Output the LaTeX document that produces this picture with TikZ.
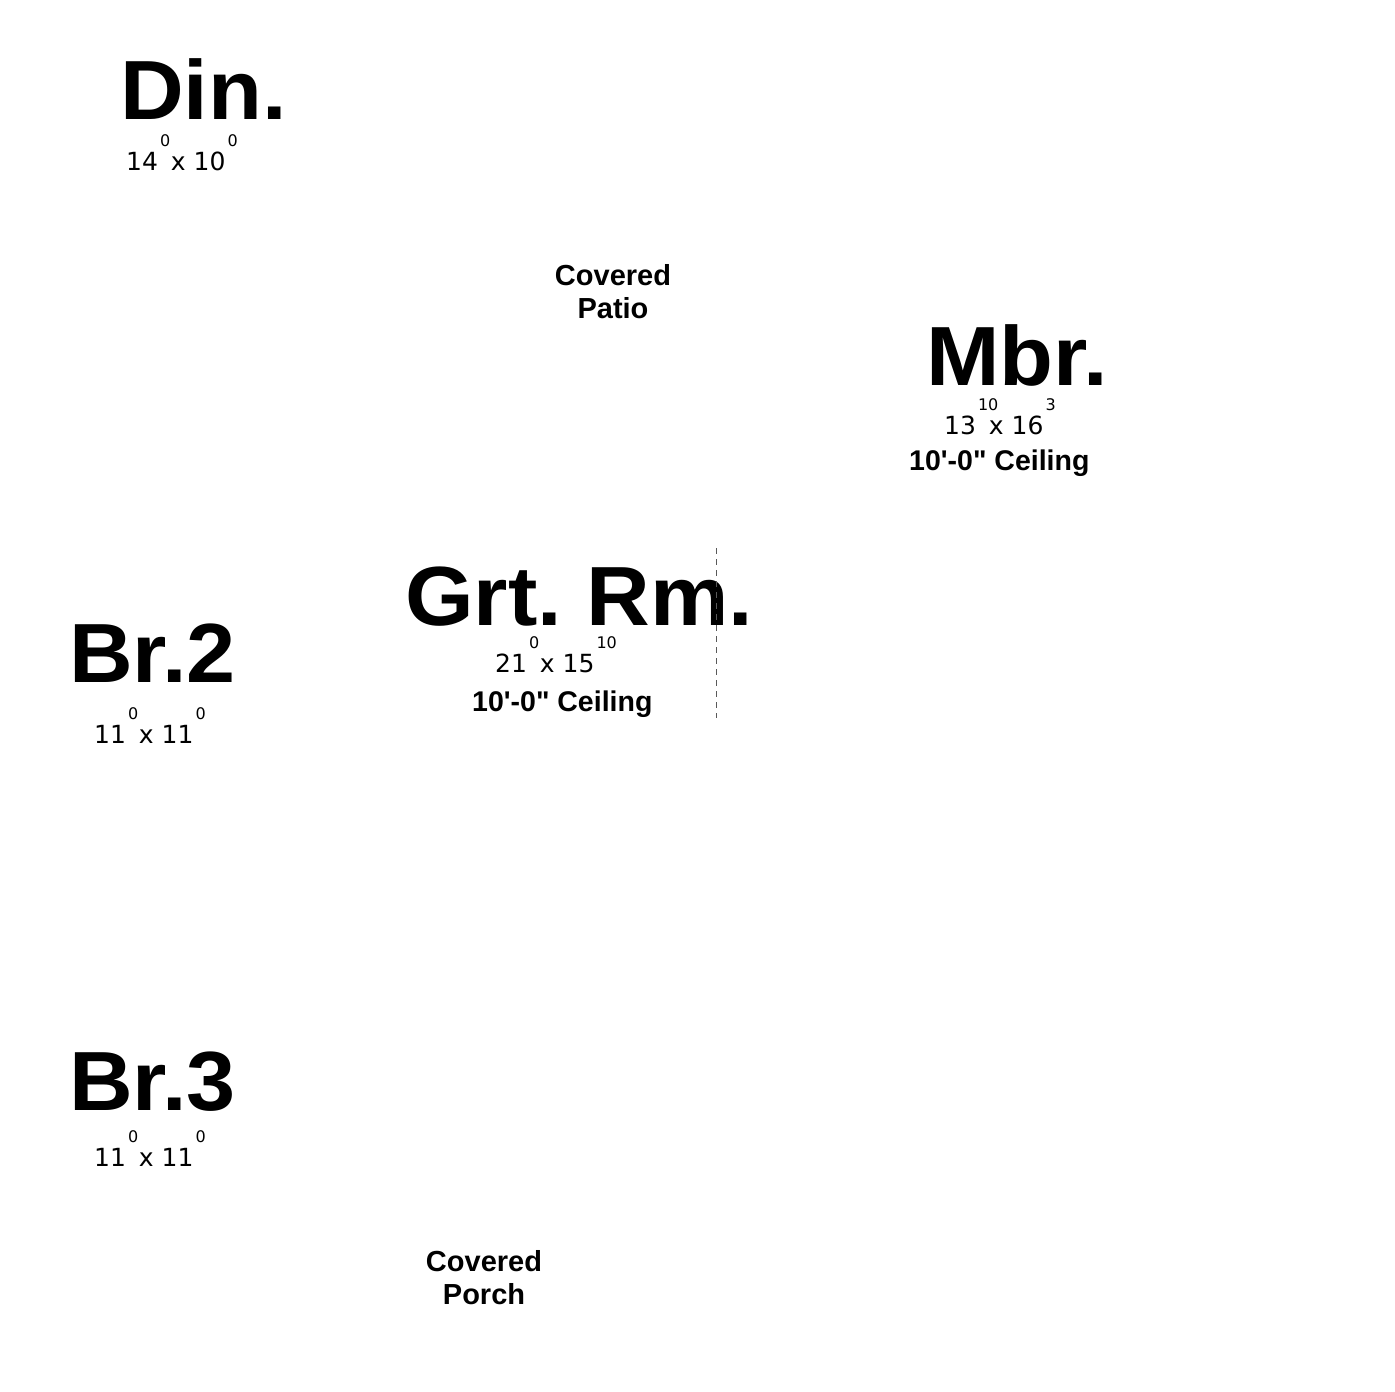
\documentclass[tikz,border=0pt]{standalone}
\usepackage{fontspec}
\setmainfont{Liberation Sans}[Ligatures=TeXOff]
\newfontfamily\dimfont{DejaVu Sans}
\newfontfamily\roomfont{Liberation Sans Bold}[FakeStretch=1.05]
\newcommand{\up}[1]{\rlap{\kern2pt\raisebox{0.95em}{\fontsize{16}{16}\selectfont #1}}}
\newcommand{\dm}[4]{#1\up{#2}\kern5pt{} x #3\up{#4}}

\begin{document}
\frenchspacing
\begin{tikzpicture}[x=1pt, y=-1pt,
    room/.style={font=\fontsize{84}{84}\selectfont\roomfont, inner sep=0pt, text depth=0pt, anchor=base west},
    dims/.style={font=\fontsize{25}{25}\selectfont\dimfont, inner sep=0pt, anchor=base west},
    ceil/.style={font=\fontsize{28.5}{28.5}\selectfont\bfseries, inner sep=0pt, anchor=base west},
    note/.style={font=\fontsize{29}{33}\selectfont\bfseries, inner sep=0pt, align=center, anchor=base}]
    \useasboundingbox (0,0) rectangle (1395,1392);
    % room names
    \foreach \n/\t/\x/\y in {din/Din./120/119, mbr/Mbr./926/385, grt/Grt. Rm./405/625, br2/Br.2/69/682, br3/Br.3/69/1110}
        \node[room] (\n) at (\x,\y) {\t};
    % sizes
    \node[dims] (din-d) at (126,170) {\dm{14}{0}{10}{0}};
    \node[dims] (mbr-d) at (944,434) {\dm{13}{10}{16}{3}};
    \node[dims] (grt-d) at (495,672) {\dm{21}{0}{15}{10}};
    \node[dims] (br2-d) at (94,743) {\dm{11}{0}{11}{0}};
    \node[dims] (br3-d) at (94,1166) {\dm{11}{0}{11}{0}};
    \node[ceil] (mbr-c) at (909,470) {10'-0" Ceiling};
    \node[ceil] (grt-c) at (472,711) {10'-0" Ceiling};
    % outdoor areas
    \node[note] (patio) at (613,318) {Covered\\Patio};
    \node[note] (porch) at (484,1304) {Covered\\Porch};
    % opening
    \coordinate (o1) at (716,548);
    \coordinate (o2) at (716,718);
    \draw[gray!70!black, line width=0.8pt, dash pattern=on 6pt off 5pt] (o1) -- (o2);
\end{tikzpicture}
\end{document}
